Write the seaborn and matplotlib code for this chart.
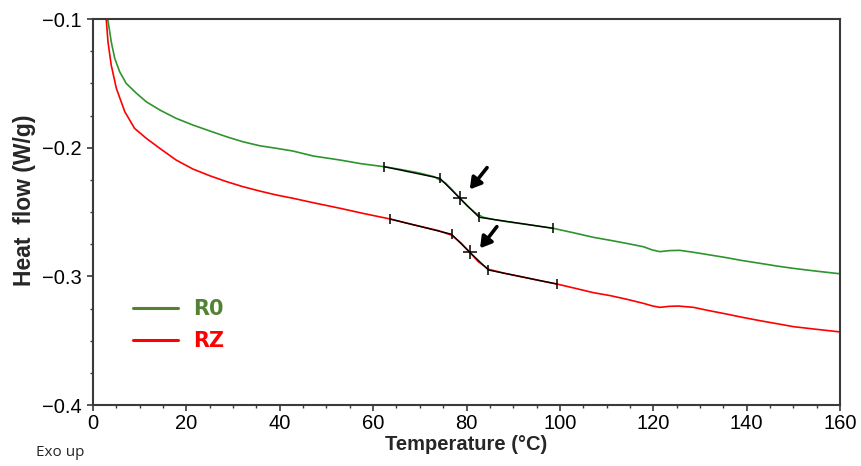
import numpy as np
import pandas as pd
import matplotlib
matplotlib.use("Agg")
import matplotlib.pyplot as plt
from matplotlib.lines import Line2D
from matplotlib.ticker import MultipleLocator
import seaborn as sns

# DSC traces (temperature in degC, heat flow in W/g)
r0_temp = [3.0, 3.5, 3.9, 4.65, 5.7, 7.1, 9.3, 11.4, 14.3, 17.8, 21.4, 25.0, 28.6,
           32.1, 35.7, 39.3, 42.8, 47.2, 52.9, 57.5, 62.4, 66.0, 70.0, 73.0, 75.5,
           77.0, 78.6, 80.2, 81.8, 83.5, 86.0, 88.6, 93.0, 98.6, 103.0, 107.2,
           110.8, 114.3, 117.9, 119.8, 121.4, 123.5, 125.7, 128.6, 132.0, 135.7,
           139.0, 142.9, 146.5, 150.0, 155.0, 160.0]
r0_flow = [-0.097, -0.108, -0.1176, -0.1305, -0.1409, -0.1500, -0.1577, -0.1643,
           -0.1707, -0.1772, -0.1824, -0.1870, -0.1915, -0.1954, -0.1985, -0.2005,
           -0.2026, -0.2065, -0.2096, -0.2125, -0.2148, -0.2170, -0.2198, -0.2225,
           -0.2275, -0.2330, -0.2394, -0.2455, -0.2505, -0.2540, -0.2560, -0.2575,
           -0.2597, -0.2627, -0.2662, -0.2697, -0.2720, -0.2744, -0.2770, -0.2795,
           -0.2808, -0.2800, -0.2798, -0.2813, -0.2833, -0.2855, -0.2877, -0.2899,
           -0.2920, -0.2938, -0.2960, -0.2980]

rz_temp = [2.6, 2.85, 3.2, 3.9, 5.0, 6.8, 8.9, 11.4, 14.3, 17.8, 21.4, 25.0, 28.6,
           32.1, 35.7, 39.3, 42.8, 47.2, 52.9, 58.0, 63.6, 67.0, 70.5, 74.0, 76.8,
           78.8, 80.7, 82.5, 84.7, 88.0, 92.0, 95.5, 99.4, 103.5, 107.2, 110.8,
           114.3, 117.9, 119.8, 121.4, 123.5, 125.4, 128.6, 132.0, 135.7, 139.0,
           142.9, 146.5, 150.0, 155.0, 160.0]
rz_flow = [-0.095, -0.1008, -0.1176, -0.1358, -0.1539, -0.1720, -0.1850, -0.1927,
           -0.2005, -0.2096, -0.2166, -0.2218, -0.2264, -0.2303, -0.2337, -0.2368,
           -0.2393, -0.2428, -0.2471, -0.2512, -0.2554, -0.2585, -0.2615, -0.2645,
           -0.2680, -0.2740, -0.2813, -0.2885, -0.2945, -0.2975, -0.3005, -0.3032,
           -0.3060, -0.3095, -0.3127, -0.3150, -0.3178, -0.3210, -0.3230, -0.3241,
           -0.3233, -0.3231, -0.3241, -0.3267, -0.3293, -0.3318, -0.3345, -0.3368,
           -0.3391, -0.3412, -0.3432]

# glass transition construction: onset tangent, midpoint, end tangent
r0_tg_temp = [62.4, 74.3, 78.6, 82.7, 98.6]
r0_tg_flow = [-0.2148, -0.2238, -0.2394, -0.2541, -0.2627]
rz_tg_temp = [63.6, 76.8, 80.7, 84.7, 99.4]
rz_tg_flow = [-0.2554, -0.2673, -0.2813, -0.2951, -0.3060]

# arrows pointing at the Tg midpoints (tail -> head)
r0_arrow = [(84.4, -0.2155), (80.7, -0.2324)]
rz_arrow = [(86.5, -0.2614), (82.9, -0.2782)]

series_names = ["R0", "RZ"]
line_colors = {"R0": "#2e942e", "RZ": "#ff0000"}
legend_colors = ["#548235", "#ff0000"]

x_ticks = [0, 20, 40, 60, 80, 100, 120, 140, 160]
y_ticks = [-0.1, -0.2, -0.3, -0.4]

sns.set_theme(style="ticks")
plt.rcParams["font.family"] = ["Liberation Sans", "DejaVu Sans"]
plt.rcParams["axes.unicode_minus"] = True

df = pd.concat([
    pd.DataFrame({"Temperature": r0_temp, "Heat flow": r0_flow, "Sample": "R0"}),
    pd.DataFrame({"Temperature": rz_temp, "Heat flow": rz_flow, "Sample": "RZ"}),
], ignore_index=True)

fig = plt.figure(figsize=(8.62, 4.66), dpi=100)
ax = fig.add_axes([0.1079, 0.1309, 0.8666, 0.8283])

sns.lineplot(data=df, x="Temperature", y="Heat flow", hue="Sample",
             palette=line_colors, sort=False, estimator=None, linewidth=1.2,
             legend=False, ax=ax)

# tangent construction in black
for tt, tf in [(r0_tg_temp, r0_tg_flow), (rz_tg_temp, rz_tg_flow)]:
    ax.plot(tt, tf, color="black", linewidth=1.0, zorder=3)
    ends = [0, 1, 3, 4]
    ax.plot([tt[i] for i in ends], [tf[i] for i in ends], linestyle="none",
            marker="|", markersize=7, markeredgewidth=1.1, color="black", zorder=4)
    ax.plot([tt[2]], [tf[2]], linestyle="none", marker="+", markersize=10,
            markeredgewidth=1.1, color="black", zorder=4)

for tail, head in [r0_arrow, rz_arrow]:
    ax.annotate("", xy=head, xytext=tail,
                arrowprops=dict(arrowstyle="-|>,head_length=0.5,head_width=0.3",
                                color="black", lw=2.6, shrinkA=0, shrinkB=0,
                                mutation_scale=13))

ax.set_xlim(0, 160)
ax.set_ylim(-0.4, -0.1)
ax.set_xticks(x_ticks)
ax.set_yticks(y_ticks)
ax.xaxis.set_minor_locator(MultipleLocator(5))
ax.yaxis.set_minor_locator(MultipleLocator(0.025))
ax.set_yticklabels([f"{v:.1f}".replace("-", "\u2212") for v in y_ticks])

for side in ["left", "right", "top", "bottom"]:
    ax.spines[side].set_visible(True)
    ax.spines[side].set_color("#3a3a3a")
    ax.spines[side].set_linewidth(1.5)

ax.tick_params(axis="both", which="major", direction="out", length=4, width=1.2,
               color="#3a3a3a", labelsize=14.5, labelcolor="black")
ax.tick_params(axis="both", which="minor", direction="out", length=2.5, width=1.0,
               color="#3a3a3a")
ax.tick_params(axis="x", which="major", pad=2.5)
ax.tick_params(axis="y", which="major", pad=4)

ax.set_xlabel("Temperature (°C)", fontsize=14.5, fontweight="bold")
ax.set_ylabel("Heat  flow (W/g)", fontsize=16.5, fontweight="bold")
ax.xaxis.set_label_coords(0.5, -0.078)
ax.yaxis.set_label_coords(-0.0765, 0.53)

handles = [Line2D([0], [0], color=c, linewidth=2.2) for c in legend_colors]
ax.legend(handles, series_names, loc="upper left", bbox_to_anchor=(0.0535, 0.275),
          frameon=False, borderpad=0, borderaxespad=0, handlelength=2.16,
          handletextpad=0.72, labelspacing=0.6, labelcolor=legend_colors,
          prop={"family": "DejaVu Sans", "weight": "bold", "size": 15})

fig.text(0.042, 0.030, "Exo up", fontsize=11, family=["Open Sans", "DejaVu Sans"],
         va="center", ha="left")

fig.savefig("out.png", dpi=100, facecolor="white")
